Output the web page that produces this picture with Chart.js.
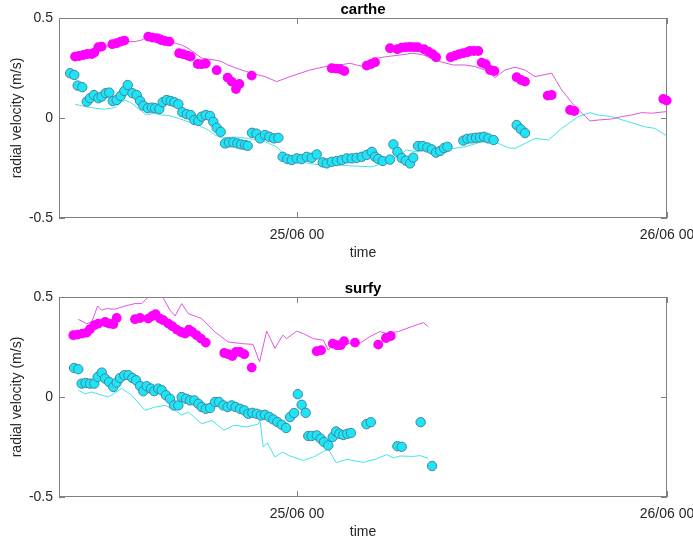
<!DOCTYPE html>
<html>
<head>
<meta charset="utf-8">
<script src="https://cdn.jsdelivr.net/npm/chart.js@4.4.1/dist/chart.umd.min.js"></script>
<style>
  body { margin: 0; background: #fff; }
  #wrap { position: relative; width: 693px; height: 544px; overflow: hidden; }
  .box { position: absolute; left: 0; width: 693px; height: 279px; }
</style>
</head>
<body>
<div id="wrap">
  <div class="box" style="top:0"><canvas id="chartCarthe"></canvas></div>
  <div class="box" style="top:279px"><canvas id="chartSurfy"></canvas></div>
</div>
<script>
// time = hours from 25/06 00:00, value = radial velocity (m/s)
const xTickHours = [0, 24];
const xTickLabels = ['25/06 00', '26/06 00'];
const yTickVals = [-0.5, 0, 0.5];
const xMin = -15.44, xMax = 24;

// carthe - magenta dots
const cartheMagDots = [[-14.40,0.307],[-14.14,0.31],[-13.86,0.315],[-13.60,0.32],[-13.32,0.32],[-13.15,0.327],[-12.89,0.354],[-12.67,0.357],
  [-11.98,0.369],[-11.70,0.374],[-11.44,0.382],[-11.20,0.387],[-9.65,0.407],[-9.39,0.402],[-9.10,0.399],[-8.82,0.39],[-8.56,0.385],[-8.28,0.382],
  [-7.65,0.324],[-7.38,0.319],[-7.09,0.312],[-6.90,0.307],[-6.44,0.27],[-6.18,0.269],[-5.92,0.272],[-5.21,0.239],[-4.50,0.202],[-4.24,0.182],
  [-3.96,0.145],[-3.74,0.17],[-2.94,0.212],[2.25,0.249],[2.53,0.247],[2.79,0.245],[3.07,0.235],[4.52,0.262],[4.80,0.27],[5.06,0.279],
  [6.03,0.349],[6.51,0.344],[6.79,0.352],[7.07,0.354],[7.33,0.355],[7.59,0.354],[7.83,0.354],[8.24,0.344],[8.52,0.332],[8.80,0.319],[9.02,0.304],
  [9.97,0.304],[10.25,0.312],[10.51,0.319],[10.79,0.324],[11.05,0.329],[11.22,0.335],[11.48,0.335],[11.76,0.335],[11.98,0.277],[12.24,0.269],
  [12.52,0.24],[12.80,0.235],[14.25,0.204],[14.53,0.19],[14.79,0.182],[16.26,0.112],[16.52,0.115],[17.71,0.04],[17.99,0.035],[23.76,0.095],[23.98,0.087]];
// carthe - magenta line
const cartheMagLine = [[-14.08,0.315],[-12.78,0.35],[-11.48,0.38],[-10.96,0.382],[-10.51,0.382],[-10.07,0.39],[-9.66,0.408],[-8.89,0.42],[-8.24,0.39],
  [-7.91,0.374],[-7.48,0.365],[-7.07,0.349],[-6.62,0.324],[-6.18,0.299],[-5.77,0.294],[-5.32,0.29],[-4.88,0.282],[-4.48,0.265],[-4.02,0.252],
  [-3.59,0.24],[-3.26,0.232],[-2.72,0.219],[-2.08,0.207],[-1.32,0.182],[-0.45,0.207],[0.84,0.24],[1.82,0.257],[2.58,0.262],[3.44,0.274],[3.87,0.265],
  [4.30,0.257],[5.17,0.299],[5.82,0.307],[6.68,0.315],[7.54,0.324],[8.19,0.315],[9.28,0.282],[10.14,0.265],[10.90,0.265],[11.55,0.257],[12.19,0.24],
  [12.84,0.202],[13.49,0.24],[14.14,0.254],[14.79,0.24],[15.44,0.207],[16.52,0.224],[17.17,0.14],[18.03,0.057],[19.01,-0.015],[19.54,-0.01],
  [20.41,-0.005],[21.06,0.007],[21.71,0.015],[22.36,0.027],[23.01,0.024],[23.98,0.032]];
// carthe - cyan dots
const cartheCyanDots = [[-14.72,0.224],[-14.45,0.215],[-14.23,0.162],[-13.93,0.154],[-13.64,0.082],[-13.43,0.099],[-13.17,0.115],[-12.89,0.099],
  [-12.67,0.107],[-12.41,0.124],[-12.18,0.127],[-11.95,0.085],[-11.70,0.09],[-11.44,0.11],[-11.20,0.135],[-10.98,0.165],[-10.68,0.124],[-10.40,0.115],
  [-10.18,0.085],[-9.97,0.062],[-9.68,0.049],[-9.42,0.052],[-9.21,0.049],[-8.93,0.045],[-8.71,0.079],[-8.45,0.09],[-8.19,0.085],[-7.96,0.079],
  [-7.70,0.069],[-7.44,0.029],[-7.15,0.019],[-6.90,0.015],[-6.66,-0.01],[-6.40,-0.015],[-6.18,0.007],[-5.92,0.015],[-5.64,0.01],[-5.43,-0.019],
  [-5.21,-0.049],[-4.95,-0.069],[-4.67,-0.127],[-4.41,-0.122],[-4.13,-0.122],[-3.87,-0.127],[-3.63,-0.132],[-3.37,-0.135],[-3.20,-0.139],
  [-2.92,-0.074],[-2.63,-0.078],[-2.40,-0.102],[-2.08,-0.085],[-1.80,-0.094],[-1.49,-0.102],[-1.21,-0.099],[-0.93,-0.194],[-0.63,-0.205],
  [-0.34,-0.21],[-0.02,-0.202],[0.30,-0.205],[0.63,-0.194],[0.95,-0.199],[1.28,-0.182],[1.67,-0.222],[1.93,-0.227],[2.25,-0.219],[2.58,-0.215],
  [2.90,-0.21],[3.22,-0.202],[3.55,-0.202],[3.87,-0.199],[4.20,-0.194],[4.52,-0.185],[4.85,-0.169],[5.06,-0.194],[5.27,-0.205],[5.56,-0.215],
  [6.03,-0.208],[6.25,-0.132],[6.51,-0.169],[6.79,-0.2],[7.06,-0.213],[7.33,-0.227],[7.54,-0.198],[7.85,-0.14],[8.15,-0.14],[8.45,-0.147],
  [8.74,-0.157],[9.02,-0.173],[9.28,-0.165],[9.54,-0.15],[9.76,-0.144],[10.79,-0.113],[11.05,-0.104],[11.33,-0.102],[11.61,-0.099],[11.87,-0.097],
  [12.13,-0.094],[12.41,-0.102],[12.75,-0.11],[14.25,-0.035],[14.52,-0.056],[14.79,-0.075]];
// carthe - cyan line
const cartheCyanLine = [[-14.40,0.069],[-13.75,0.057],[-13.10,0.049],[-12.45,0.044],[-11.81,0.052],[-11.48,0.074],[-11.16,0.09],[-10.72,0.074],
  [-10.18,0.04],[-9.75,0.015],[-9.32,0.024],[-8.78,0.015],[-8.24,0.012],[-7.70,-0.002],[-7.05,-0.019],[-6.62,-0.027],[-6.18,-0.044],[-5.75,-0.06],
  [-5.32,-0.085],[-4.88,-0.099],[-4.02,-0.095],[-3.16,-0.102],[-2.08,-0.119],[-1.32,-0.144],[-0.89,-0.177],[0.19,-0.22],[1.49,-0.235],[2.79,-0.235],
  [3.44,-0.239],[4.85,-0.244],[5.60,-0.227],[6.36,-0.2],[7.11,-0.16],[7.76,-0.169],[8.63,-0.16],[9.92,-0.155],[10.90,-0.144],[11.98,-0.119],
  [13.06,-0.127],[13.71,-0.149],[14.14,-0.152],[14.79,-0.127],[15.44,-0.102],[16.30,-0.11],[17.17,-0.052],[18.25,0.007],[19.01,0.027],[19.54,0.015],
  [20.41,0.007],[21.49,-0.019],[22.57,-0.044],[23.22,-0.052],[23.98,-0.09]];

// surfy - magenta dots
const surfyMagDots = [[-14.51,0.309],[-14.23,0.312],[-13.93,0.317],[-13.64,0.322],[-13.43,0.339],[-13.15,0.359],[-12.89,0.367],[-12.45,0.375],
  [-12.19,0.367],[-11.92,0.364],[-11.70,0.395],[-10.51,0.389],[-10.18,0.395],[-9.65,0.392],[-9.39,0.405],[-9.17,0.414],[-8.89,0.392],[-8.67,0.384],
  [-8.35,0.367],[-8.09,0.354],[-7.80,0.337],[-7.52,0.325],[-7.26,0.317],[-7.01,0.337],[-6.79,0.325],[-6.51,0.309],[-6.23,0.292],[-5.92,0.272],
  [-4.72,0.22],[-4.46,0.214],[-4.20,0.205],[-3.96,0.225],[-3.70,0.225],[-3.42,0.214],[-2.94,0.147],[1.28,0.229],[1.56,0.234],[2.32,0.267],
  [2.61,0.259],[2.83,0.259],[3.05,0.279],[3.76,0.272],[5.27,0.262],[5.77,0.295],[6.08,0.305]];
// surfy - magenta line
const surfyMagLine = [[-14.19,0.388],[-13.64,0.367],[-13.32,0.375],[-12.93,0.455],[-12.67,0.434],[-12.34,0.442],[-11.81,0.439],[-11.16,0.455],
  [-10.51,0.467],[-10.07,0.467],[-9.54,0.51],[-9.21,0.52],[-8.78,0.51],[-8.24,0.434],[-7.91,0.405],[-7.48,0.467],[-7.05,0.417],[-6.18,0.392],
  [-5.32,0.325],[-4.46,0.275],[-3.59,0.267],[-2.85,0.263],[-2.43,0.175],[-1.97,0.33],[-1.43,0.243],[-0.93,0.309],[-0.67,0.292],[-0.02,0.329],
  [0.41,0.317],[1.06,0.292],[1.71,0.284],[2.03,0.234],[2.32,0.267],[3.22,0.268],[4.09,0.269],[4.73,0.302],[5.38,0.327],[5.82,0.318],[6.57,0.327],
  [7.44,0.352],[8.19,0.372],[8.52,0.351]];
// surfy - cyan dots
const surfyCyanDots = [[-14.46,0.145],[-14.19,0.139],[-13.97,0.067],[-13.71,0.07],[-13.43,0.067],[-13.15,0.067],[-12.93,0.1],[-12.67,0.122],
  [-12.45,0.092],[-12.19,0.075],[-11.92,0.05],[-11.70,0.072],[-11.48,0.095],[-11.20,0.109],[-10.94,0.109],[-10.68,0.095],[-10.44,0.084],
  [-10.18,0.055],[-9.97,0.029],[-9.75,0.054],[-9.47,0.042],[-9.26,0.029],[-9.00,0.042],[-8.78,0.034],[-8.50,0.009],[-8.24,-0.009],[-7.98,-0.042],
  [-7.70,-0.042],[-7.48,0],[-7.20,-0.009],[-6.94,-0.017],[-6.66,-0.017],[-6.40,-0.034],[-6.18,-0.05],[-5.92,-0.059],[-5.64,-0.055],[-5.32,-0.025],
  [-5.06,-0.025],[-4.78,-0.042],[-4.50,-0.05],[-4.24,-0.042],[-3.98,-0.05],[-3.70,-0.059],[-3.42,-0.067],[-3.16,-0.084],[-2.90,-0.079],[-2.61,-0.084],
  [-2.34,-0.092],[-2.08,-0.089],[-1.80,-0.1],[-1.54,-0.112],[-1.28,-0.125],[-0.99,-0.139],[-0.71,-0.155],[-0.45,-0.1],[-0.19,-0.08],[0.05,0.014],
  [0.30,-0.039],[0.56,-0.079],[0.73,-0.195],[0.95,-0.195],[1.28,-0.192],[1.54,-0.209],[1.75,-0.225],[2.03,-0.242],[2.32,-0.2],[2.53,-0.172],
  [2.74,-0.184],[3.00,-0.19],[3.26,-0.184],[3.50,-0.18],[4.50,-0.136],[4.79,-0.126],[6.51,-0.246],[6.79,-0.249],[8.02,-0.126],[8.76,-0.345]];
// surfy - cyan line
const surfyCyanLine = [[-14.19,0.034],[-13.75,0.016],[-13.32,0.025],[-12.67,0.009],[-12.24,0],[-11.37,0.043],[-10.72,0.009],[-9.86,-0.067],
  [-9.21,-0.05],[-8.56,-0.042],[-7.91,-0.067],[-7.48,-0.091],[-7.05,-0.075],[-6.18,-0.134],[-5.53,-0.117],[-4.73,-0.166],[-4.09,-0.141],
  [-3.26,-0.15],[-2.51,-0.135],[-2.40,-0.117],[-2.19,-0.25],[-1.93,-0.229],[-1.43,-0.3],[-0.93,-0.275],[-0.56,-0.292],[0.41,-0.317],[1.06,-0.3],
  [2.03,-0.26],[2.53,-0.328],[3.22,-0.312],[4.30,-0.327],[5.06,-0.312],[5.82,-0.288],[6.25,-0.305],[6.68,-0.295],[7.54,-0.297],[7.98,-0.293],
  [8.52,-0.306]];

const FONT = "'Liberation Sans', Arial, Helvetica, sans-serif";
const TXT = '#262626';

function pts(arr) {
    return arr.map(p => ({ x: p[0], y: p[1] }));
}

// box and inward ticks like the original figure
const frameTicks = {
    id: 'frameTicks',
    beforeDatasetsDraw(chart) {
        const { ctx, chartArea: a, scales: { x, y } } = chart;
        ctx.save();
        ctx.strokeStyle = '#808080';
        ctx.lineWidth = 1;
        ctx.strokeRect(a.left + 0.5, a.top + 0.5, a.right - a.left - 1, a.bottom - a.top - 1);
        ctx.beginPath();
        xTickHours.forEach(v => {
            const px = Math.round(x.getPixelForValue(v)) + 0.5;
            ctx.moveTo(px, a.bottom); ctx.lineTo(px, a.bottom - 6);
            ctx.moveTo(px, a.top); ctx.lineTo(px, a.top + 6);
        });
        yTickVals.forEach(v => {
            const py = Math.round(y.getPixelForValue(v)) + 0.5;
            ctx.moveTo(a.left, py); ctx.lineTo(a.left + 6, py);
            ctx.moveTo(a.right, py); ctx.lineTo(a.right - 6, py);
        });
        ctx.stroke();
        ctx.restore();
    }
};

function setupPlot(id, title, magDots, magLine, cyanDots, cyanLine) {
    const _ctx = document.getElementById(id);
    const config = {
        type: 'scatter',
        data: {
            datasets: [
                { data: pts(magLine), showLine: true, borderColor: '#e055e0', borderWidth: 1, pointRadius: 0, tension: 0, order: 3, clip: 0 },
                { data: pts(cyanLine), showLine: true, borderColor: '#45e3ea', borderWidth: 1, pointRadius: 0, tension: 0, order: 3, clip: 0 },
                { data: pts(magDots), backgroundColor: '#ff00ff', borderColor: '#ff00ff', borderWidth: 0, pointRadius: 4.9, order: 1, clip: false },
                { data: pts(cyanDots), backgroundColor: '#1fe4f4', borderColor: '#3f86a6', borderWidth: 1, pointRadius: 4.7, order: 1, clip: false }
            ]
        },
        options: {
            responsive: true,
            maintainAspectRatio: false,
            animation: false,
            layout: { padding: { left: 0, right: 26, top: 0, bottom: 0 } },
            plugins: {
                legend: { display: false },
                tooltip: { enabled: false },
                title: {
                    display: true,
                    text: title,
                    fullSize: false,
                    color: '#000000',
                    font: { family: FONT, size: 15, weight: 'bold', lineHeight: 17 / 15 },
                    padding: { top: 1, bottom: 0 }
                }
            },
            scales: {
                x: {
                    type: 'linear',
                    min: xMin,
                    max: xMax,
                    grid: { display: false, drawTicks: false },
                    border: { display: false },
                    afterBuildTicks: s => { s.ticks = xTickHours.map(v => ({ value: v })); },
                    afterFit: s => { s.height = 61; s.paddingLeft = 0; s.paddingRight = 0; },
                    ticks: {
                        autoSkip: false,
                        maxRotation: 0,
                        padding: 9,
                        color: TXT,
                        font: { family: FONT, size: 14 },
                        callback: v => xTickLabels[xTickHours.indexOf(v)]
                    },
                    title: {
                        display: true,
                        text: 'time',
                        color: TXT,
                        font: { family: FONT, size: 14 },
                        padding: { top: 0, bottom: 17 }
                    }
                },
                y: {
                    type: 'linear',
                    min: -0.5,
                    max: 0.5,
                    grid: { display: false, drawTicks: false },
                    border: { display: false },
                    afterBuildTicks: s => { s.ticks = yTickVals.map(v => ({ value: v })); },
                    afterFit: s => { s.width = 59; s.paddingTop = 0; s.paddingBottom = 0; },
                    ticks: {
                        padding: 6,
                        color: TXT,
                        font: { family: FONT, size: 14 }
                    },
                    title: {
                        display: true,
                        text: 'radial velocity (m/s)',
                        color: TXT,
                        font: { family: FONT, size: 14 },
                        padding: { top: 8.6, bottom: 0 }
                    }
                }
            }
        },
        plugins: [frameTicks]
    };
    return new Chart(_ctx, config);
}

var chartCarthe = setupPlot('chartCarthe', 'carthe', cartheMagDots, cartheMagLine, cartheCyanDots, cartheCyanLine);
var chartSurfy = setupPlot('chartSurfy', 'surfy', surfyMagDots, surfyMagLine, surfyCyanDots, surfyCyanLine);
</script>
</body>
</html>
